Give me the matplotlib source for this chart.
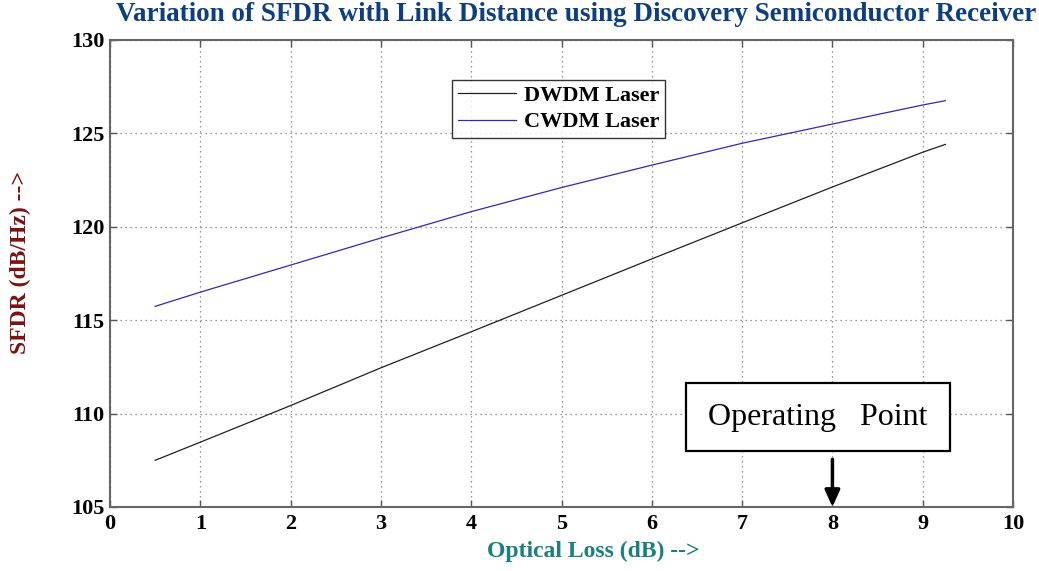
import matplotlib
matplotlib.use("Agg")
import matplotlib.pyplot as plt
from matplotlib.patches import Rectangle

# données
loss = [0.5, 1, 2, 3, 4, 5, 6, 7, 8, 9, 9.25]
sfdr_dwdm = [107.5, 108.47, 110.43, 112.45, 114.38, 116.33, 118.28,
             120.21, 122.13, 123.99, 124.41]
sfdr_cwdm = [115.74, 116.5, 117.95, 119.4, 120.81, 122.1, 123.3,
             124.47, 125.5, 126.52, 126.75]
xticks = list(range(0, 11))
yticks = [105, 110, 115, 120, 125, 130]
op_point = 8

SERIF = ["Liberation Serif", "DejaVu Serif"]
plt.rcParams.update({"font.family": SERIF})

fig = plt.figure(figsize=(10.39, 5.71), dpi=100)
ax = fig.add_axes([0.1059, 0.1121, 0.8691, 0.8179])

ax.plot(loss, sfdr_dwdm, color="#202020", lw=0.9, label="DWDM Laser")
ax.plot(loss, sfdr_cwdm, color="#2a2ab8", lw=0.9, label="CWDM Laser")

ax.set_xlim(0, 10)
ax.set_ylim(105, 130)
ax.set_xticks(xticks)
ax.set_yticks(yticks)
ax.tick_params(direction="in", length=5, width=1, color="#555555",
               top=True, right=True, labelsize=16)
ax.tick_params(axis="x", pad=5)
ax.tick_params(axis="y", pad=4)
for lab in ax.get_xticklabels() + ax.get_yticklabels():
    lab.set_fontweight("bold")
for s in ax.spines.values():
    s.set_color("#666666")
    s.set_linewidth(1.5)
ax.grid(True, ls=(0, (1, 3)), color="#777777", lw=0.9)

leg = ax.legend(loc="upper left", bbox_to_anchor=(0.379, 0.914),
                prop={"family": SERIF, "weight": "bold", "size": 16},
                frameon=True, fancybox=False, handlelength=2.6,
                borderpad=0.25, labelspacing=0.25, handletextpad=0.4,
                borderaxespad=0)
leg.get_frame().set_edgecolor("black")
leg.get_frame().set_linewidth(1.0)

# encadré « Operating Point » et flèche
ax.add_patch(Rectangle((6.375, 108.0), 2.925, 3.63, fill=True,
                       facecolor="white", edgecolor="black", lw=1.6,
                       zorder=4))
ax.text(7.84, 109.81, "Operating   Point", ha="center", va="center",
        fontsize=23, color="black", zorder=5)
ax.annotate("", xy=(op_point, 105), xytext=(op_point, 107.55),
            arrowprops=dict(arrowstyle="-|>,head_width=0.45,head_length=1.0",
                            color="black", lw=2.5, shrinkA=0, shrinkB=0),
            zorder=5)

fig.text(0.5545, 0.975, "Variation of SFDR with Link Distance using "
         "Discovery Semiconductor Receiver", ha="center", va="center",
         fontsize=19.5, fontweight="bold", color="#0d3f7f")
fig.text(0.571, 0.035, "Optical Loss (dB) -->", ha="center", va="center",
         fontsize=17, fontweight="bold", color="#1a7f7f")
fig.text(0.02, 0.54, "SFDR (dB/Hz) -->", ha="center", va="center",
         rotation=90, fontsize=17, fontweight="bold", color="#7a1212")

fig.savefig("out.png", dpi=100)
